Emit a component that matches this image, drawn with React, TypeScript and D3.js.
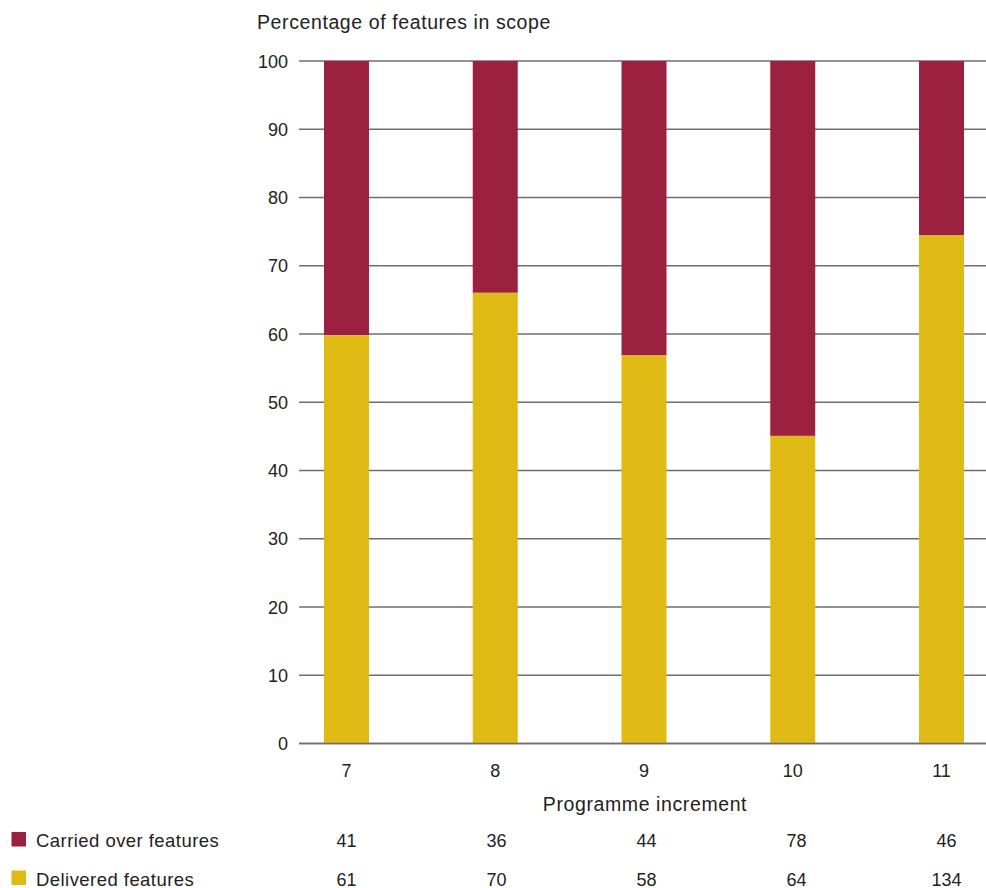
import React from "react";
import * as d3 from "d3";

const increments = ["7", "8", "9", "10", "11"];
const carriedOver = [41, 36, 44, 78, 46];
const delivered = [61, 70, 58, 64, 134];
const yTicks = [0, 10, 20, 30, 40, 50, 60, 70, 80, 90, 100];
const seriesNames = ["Carried over features", "Delivered features"];

const W = 986;
const H = 888;
const RED = "#9c2140";
const YELLOW = "#dfba14";
const FONT = "'Liberation Sans', Arial, Helvetica, sans-serif";
const TEXT = "#222";

export default function App() {
  const x = d3
    .scaleBand<string>()
    .domain(increments)
    .range([272.1, 1015.9])
    .paddingInner(0.6975)
    .paddingOuter(0.34875);
  const tableX = d3.scalePoint<string>().domain(increments).range([346.5, 946.5]);
  const y = d3.scaleLinear().domain([0, 100]).range([743.5, 61]);

  const rows = increments.map((k, i) => {
    const total = carriedOver[i] + delivered[i];
    const dp = (delivered[i] / total) * 100;
    return { k, dp };
  });

  return (
    <svg
      width={W}
      height={H}
      style={{ position: "absolute", left: 0, top: 0, background: "#fff" }}
      fontFamily={FONT}
    >
      <text x={257} y={29} fontSize={19.5} letterSpacing={0.6} fill={TEXT}>
        Percentage of features in scope
      </text>
      {yTicks.map((t) => (
        <g key={t}>
          <line x1={299} x2={W} y1={y(t)} y2={y(t)} stroke="#6e6e6e" strokeWidth={1.5} />
          <text x={288} y={y(t) + 6.5} textAnchor="end" fontSize={18} fill={TEXT}>
            {t}
          </text>
        </g>
      ))}
      {rows.map((r) => (
        <g key={r.k}>
          <rect x={x(r.k)} y={y(100)} width={x.bandwidth()} height={y(r.dp) - y(100)} fill={RED} />
          <rect x={x(r.k)} y={y(r.dp)} width={x.bandwidth()} height={y(0) - y(r.dp)} fill={YELLOW} />
        </g>
      ))}
      <line x1={299} x2={W} y1={y(0)} y2={y(0)} stroke="#6e6e6e" strokeWidth={1.5} />
      {increments.map((k) => (
        <text key={k} x={(x(k) as number) + x.bandwidth() / 2} y={777} textAnchor="middle" fontSize={18} fill={TEXT}>
          {k}
        </text>
      ))}
      <text x={645} y={811} textAnchor="middle" fontSize={19.5} letterSpacing={0.6} fill={TEXT}>
        Programme increment
      </text>
      {[carriedOver, delivered].map((vals, ri) => {
        const yy = ri === 0 ? 847 : 885.5;
        return (
          <g key={ri}>
            <rect x={11.5} y={yy - 15} width={14.5} height={14.5} fill={ri === 0 ? RED : YELLOW} />
            <text x={36} y={yy} fontSize={18.5} letterSpacing={0.45} fill={TEXT}>
              {seriesNames[ri]}
            </text>
            {vals.map((v, i) => (
              <text
                key={i}
                x={tableX(increments[i]) as number}
                y={yy}
                textAnchor="middle"
                fontSize={18}
                fill={TEXT}
              >
                {v}
              </text>
            ))}
          </g>
        );
      })}
    </svg>
  );
}
